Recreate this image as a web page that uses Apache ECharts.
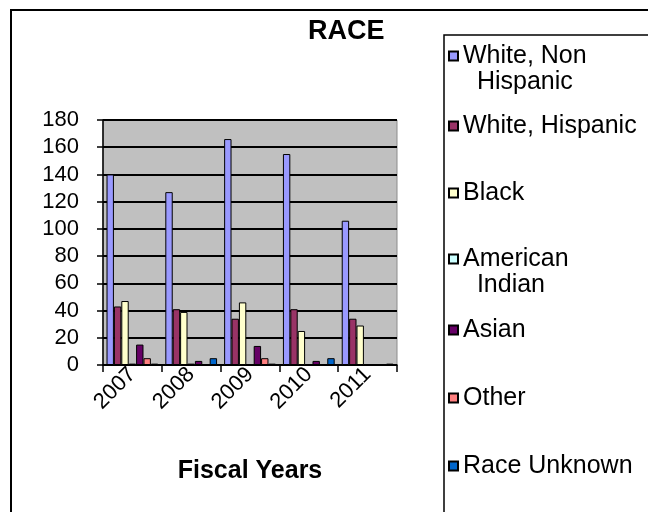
<!DOCTYPE html>
<html>
<head>
<meta charset="utf-8">
<script src="https://cdn.jsdelivr.net/npm/echarts@6/dist/echarts.min.js"></script>
<style>
  html, body { margin: 0; padding: 0; background: #fff; }
  #chart { width: 648px; height: 512px; }
</style>
</head>
<body>
<div id="chart"></div>
<script>
// Fiscal-year categories and headcounts by race
const years = ['2007', '2008', '2009', '2010', '2011'];
const seriesNames = ['White, Non Hispanic', 'White, Hispanic', 'Black', 'American Indian', 'Asian', 'Other', 'Race Unknown'];
const whiteNonHispanic = [140, 127, 166, 155, 106];
const whiteHispanic = [43, 41, 34, 41, 34];
const black = [47, 39, 46, 25, 29];
const americanIndian = [1, 1, 0, 0, 0];
const asian = [15, 3, 14, 3, 0];
const other = [5, 0, 5, 0, 0];
const raceUnknown = [1, 5, 1, 5, 1];
const yTicks = [0, 20, 40, 60, 80, 100, 120, 140, 160, 180];

const values = [whiteNonHispanic, whiteHispanic, black, americanIndian, asian, other, raceUnknown];
const colors = ['#9999FF', '#993366', '#FFFFCC', '#CCFFFF', '#660066', '#FF8080', '#0066CC'];
// legend labels as wrapped in the key box (first line sits beside the swatch)
const legendLines = [['White, Non', '  Hispanic'], ['White, Hispanic'], ['Black'], ['American', '  Indian'], ['Asian'], ['Other'], ['Race Unknown']];
// vertical centre of each legend row (first text line)
const legendRowCentres = [56, 126, 193, 259, 330, 398, 466];

const FONT = '"Liberation Sans", Arial, sans-serif';
const LINE = 26;

const chart = echarts.init(document.getElementById('chart'), null, { renderer: 'canvas' });

// a wrapped label gets an empty leading line so the swatch lines up with its first line
const legends = seriesNames.map((name, i) => {
  const lines = legendLines[i];
  const twoLine = lines.length > 1;
  const label = twoLine ? '\n' + lines.join('\n') : lines[0];
  return {
    data: [name],
    selectedMode: false,
    left: 448,
    top: legendRowCentres[i] - (twoLine ? LINE * 1.5 : LINE / 2),
    padding: 0,
    itemWidth: 9,
    itemHeight: 9,
    icon: 'rect',
    formatter: () => label,
    textStyle: {
      fontFamily: FONT,
      fontSize: 25,
      color: '#000',
      lineHeight: LINE
    }
  };
});

chart.setOption({
  animation: false,
  backgroundColor: '#fff',
  title: {
    text: 'RACE',
    left: 308,
    top: 18,
    padding: 0,
    textStyle: { fontFamily: FONT, fontSize: 27, fontWeight: 'bold', color: '#000' }
  },
  graphic: [
    { type: 'rect', z: 0, shape: { x: 11, y: 10, width: 700, height: 600 },
      style: { fill: 'none', stroke: '#000', lineWidth: 2 } },
    { type: 'rect', z: 0, shape: { x: 444, y: 35, width: 300, height: 600 },
      style: { fill: '#fff', stroke: '#000', lineWidth: 1.5 } }
  ],
  legend: legends,
  grid: {
    left: 103, top: 120, width: 294, height: 245,
    show: true, backgroundColor: '#C0C0C0', borderColor: '#8c8c8c', borderWidth: 1,
    containLabel: false
  },
  xAxis: {
    type: 'category',
    data: years,
    boundaryGap: true,
    name: 'Fiscal Years',
    nameLocation: 'middle',
    nameGap: 94,
    nameTextStyle: { fontFamily: FONT, fontSize: 25, fontWeight: 'bold', color: '#000' },
    axisLine: { show: true, lineStyle: { color: '#000', width: 1.5 } },
    axisTick: { show: true, alignWithLabel: false, length: 7, lineStyle: { color: '#000', width: 1.5 } },
    axisLabel: { rotate: 45, margin: 6, fontFamily: FONT, fontSize: 22, color: '#000' },
    splitLine: { show: false }
  },
  yAxis: {
    type: 'value',
    min: yTicks[0],
    max: yTicks[yTicks.length - 1],
    interval: yTicks[1] - yTicks[0],
    axisLine: { show: true, lineStyle: { color: '#000', width: 1.5 } },
    axisTick: { show: true, length: 6, lineStyle: { color: '#000', width: 1.5 } },
    axisLabel: { margin: 24, fontFamily: FONT, fontSize: 22, color: '#000' },
    splitLine: { show: true, lineStyle: { color: '#000', width: 1.8 } }
  },
  series: seriesNames.map((name, i) => ({
    name: name,
    type: 'bar',
    data: values[i],
    barGap: '0%',
    barCategoryGap: '12%',
    itemStyle: { color: colors[i], borderColor: '#000', borderWidth: 1 }
  }))
});
</script>
</body>
</html>
